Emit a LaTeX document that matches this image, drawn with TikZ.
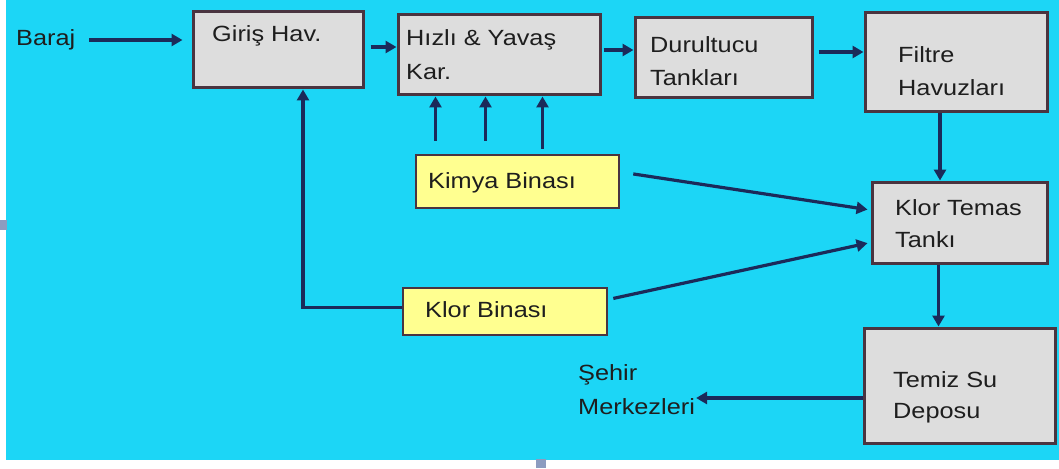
\documentclass[tikz,border=0pt]{standalone}
\usepackage{fontspec}
\setmainfont{Liberation Sans}[FakeStretch=1.15]
\usetikzlibrary{arrows.meta,calc}
\definecolor{bgcyan}{HTML}{1CD6F6}
\definecolor{boxgray}{HTML}{DDDDDD}
\definecolor{boxedge}{HTML}{4A3440}
\definecolor{ylw}{HTML}{FFFF90}
\definecolor{navy}{HTML}{1B2A5A}
\definecolor{txtc}{HTML}{1E1E1E}
\definecolor{handle}{HTML}{8C9CC0}
\tikzset{
  gbox/.style={draw=boxedge, line width=3pt, fill=boxgray, rectangle, inner sep=0pt},
  ybox/.style={draw=boxedge, line width=2.8pt, fill=ylw, rectangle, inner sep=0pt},
  lbl/.style={anchor=west, inner sep=0pt, text=txtc, font=\fontsize{22}{25}\selectfont},
  arr/.style={draw=navy, line width=3.2pt, -{Triangle[length=11pt,width=12pt]}},
  ln/.style={draw=navy, line width=3.2pt}
}
\begin{document}
\begin{tikzpicture}[x=1pt,y=-1pt]
\useasboundingbox (0,0) rectangle (1059,468);
\fill[white] (0,0) rectangle (1059,468);
\fill[bgcyan] (6,0) rectangle (1059,460);
\fill[handle] (0,220) rectangle (7,230);
\fill[handle] (536,459) rectangle (546,468);

% boxes
\node[gbox, minimum width=170pt, minimum height=76pt] (giris) at (278,50) {};
\node[gbox, minimum width=202pt, minimum height=80pt] (hizli) at (499,55) {};
\node[gbox, minimum width=177pt, minimum height=80pt] (durul) at (723.5,58) {};
\node[gbox, minimum width=182pt, minimum height=99pt] (filtre) at (956,62.5) {};
\node[gbox, minimum width=175pt, minimum height=81pt] (ktemas) at (959.5,222.5) {};
\node[gbox, minimum width=191pt, minimum height=115pt] (temiz) at (959.5,385.5) {};
\node[ybox, minimum width=203pt, minimum height=53pt] (kimya) at (517.5,181.5) {};
\node[ybox, minimum width=204pt, minimum height=47pt] (klorb) at (505,311.5) {};

% labels
\node[lbl] (baraj) at (16,40) {Baraj};
\node[lbl] (tgiris) at (212,36) {Giriş Hav.};
\node[lbl] (thizli1) at (406,40) {Hızlı \& Yavaş};
\node[lbl] (thizli2) at (406,72) {Kar.};
\node[lbl] (tdurul1) at (650,45) {Durultucu};
\node[lbl] (tdurul2) at (650,78) {Tankları};
\node[lbl] (tfiltre1) at (898,55) {Filtre};
\node[lbl] (tfiltre2) at (898,88) {Havuzları};
\node[lbl] (tkt1) at (895,208) {Klor Temas};
\node[lbl] (tkt2) at (895,240) {Tankı};
\node[lbl] (ttemiz1) at (893,380) {Temiz Su};
\node[lbl] (ttemiz2) at (893,413) {Deposu};
\node[lbl] (tkimya) at (428,183) {Kimya Binası};
\node[lbl] (tklorb) at (425,310) {Klor Binası};
\node[lbl] (sehir1) at (578,375) {Şehir};
\node[lbl] (sehir2) at (578,407) {Merkezleri};

% connectors
\draw[arr, shorten <=14pt, shorten >=9pt] (baraj.east) -- (baraj.east -| giris.west);
\draw[arr, shorten <=6pt] ([yshift=3pt]giris.east) -- ([yshift=3pt]giris.east -| hizli.west);
\draw[arr, shorten <=2pt] ([yshift=5pt]hizli.east) -- ([yshift=5pt]hizli.east -| durul.west);
\draw[arr, shorten <=5pt] ([yshift=6pt]durul.east) -- ([yshift=6pt]durul.east -| filtre.west);
\draw[arr] ([xshift=-16pt]filtre.south) -- ([xshift=-16pt]filtre.south |- ktemas.north);
\draw[arr] ([xshift=-21pt]ktemas.south) -- ([xshift=-21pt]ktemas.south |- temiz.north);
\draw[arr, shorten >=1pt] ([yshift=-12.5pt]temiz.west) -- ([yshift=-12.5pt]temiz.west -| sehir2.east);
\draw[arr] ([yshift=4pt]klorb.west) -| (giris.south -| 303,0);
\draw[arr, shorten <=13pt] ([xshift=-82pt]kimya.north) -- ([xshift=-82pt]kimya.north |- hizli.south);
\draw[arr, shorten <=13pt] ([xshift=-32pt]kimya.north) -- ([xshift=-32pt]kimya.north |- hizli.south);
\draw[arr, shorten <=5pt] ([xshift=25pt]kimya.north) -- ([xshift=25pt]kimya.north |- hizli.south);
\draw[arr, shorten <=13pt, shorten >=3pt] ([yshift=9.5pt]kimya.east) -- ([yshift=12.5pt]ktemas.west);
\draw[arr, shorten <=5pt, shorten >=3pt] ([yshift=12pt]klorb.east) -- ([yshift=-20pt]ktemas.west);
\end{tikzpicture}
\end{document}
